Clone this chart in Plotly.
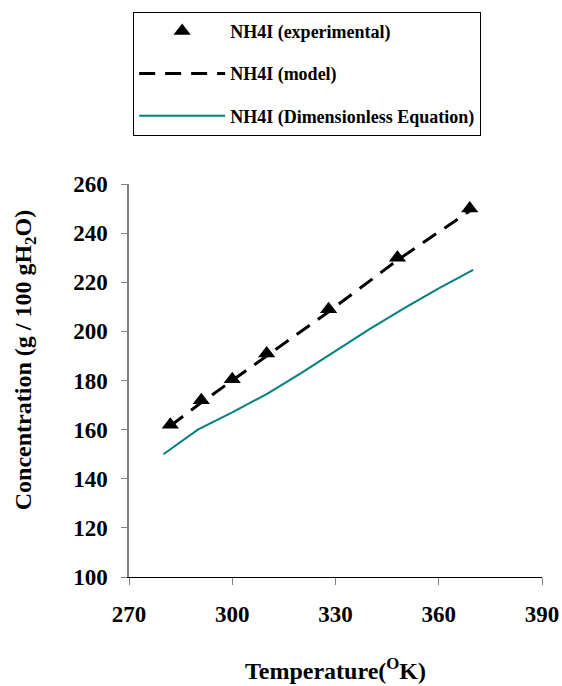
import plotly.graph_objects as go

exp_T = [282, 291, 300, 310, 328, 348, 369]
exp_C = [162, 172, 180.5, 191, 209, 230, 250]

model_T = [282, 291, 300, 310, 328, 348, 369]
model_C = [161.5, 171, 180, 190, 208, 229, 249]

dim_T = [280, 290, 300, 310, 320, 330, 340, 350, 360, 370]
dim_C = [150, 160, 167, 174.5, 183, 192, 201, 209.5, 217.5, 225]

x_ticks = [270, 300, 330, 360, 390]
y_ticks = [100, 120, 140, 160, 180, 200, 220, 240, 260]

FONT = "Liberation Serif"

fig = go.Figure()
fig.add_trace(go.Scatter(
    x=model_T, y=model_C, mode="lines", name="NH4I (model)",
    line=dict(color="black", width=3, dash="16px,10px"),
    legendgroup="b", legendrank=2))
fig.add_trace(go.Scatter(
    x=dim_T, y=dim_C, mode="lines", name="NH4I (Dimensionless Equation)",
    line=dict(color="#008080", width=2),
    legendgroup="c", legendrank=3))
fig.add_trace(go.Scatter(
    x=exp_T, y=exp_C, mode="markers", name="NH4I (experimental)",
    marker=dict(symbol="triangle-up", size=15, color="black"),
    legendgroup="a", legendrank=1))

fig.update_layout(
    width=562, height=686,
    margin=dict(l=129, r=20, t=184, b=109),
    paper_bgcolor="white", plot_bgcolor="white",
    font=dict(family=FONT, color="black", weight="bold"),
    showlegend=True,
    legend=dict(
        x=0.01, y=1.438, xanchor="left", yanchor="top",
        bordercolor="black", borderwidth=1,
        font=dict(family=FONT, size=18, color="black", weight="bold"),
        itemwidth=86, tracegroupgap=16, traceorder="grouped",
    ),
    xaxis=dict(
        range=[270, 390], tickvals=x_ticks,
        ticks="outside", ticklen=7, tickcolor="#808080",
        showline=True, linecolor="black", linewidth=1,
        showgrid=False, zeroline=False, automargin=False,
        ticklabelstandoff=9,
        tickfont=dict(family=FONT, size=23, weight="bold"),
        title=dict(text="Temperature(<sup>O</sup>K)",
                   font=dict(family=FONT, size=24, weight="bold"), standoff=36),
    ),
    yaxis=dict(
        range=[100, 260], tickvals=y_ticks,
        ticks="outside", ticklen=6, tickcolor="#808080",
        showline=True, linecolor="#808080", linewidth=1.5,
        showgrid=False, zeroline=False, automargin=False,
        ticklabelstandoff=9,
        tickfont=dict(family=FONT, size=23, weight="bold"),
    ),
    annotations=[dict(
        text="Concentration (g / 100 gH<sub>2</sub>O)",
        xref="paper", yref="paper", x=-0.250, y=0.551,
        xanchor="center", yanchor="middle", textangle=-90, showarrow=False,
        font=dict(family=FONT, size=24, color="black", weight="bold"),
    )],
)

fig.write_html("out.html", config={"displayModeBar": False},
               post_script="document.body.style.margin='0';")
